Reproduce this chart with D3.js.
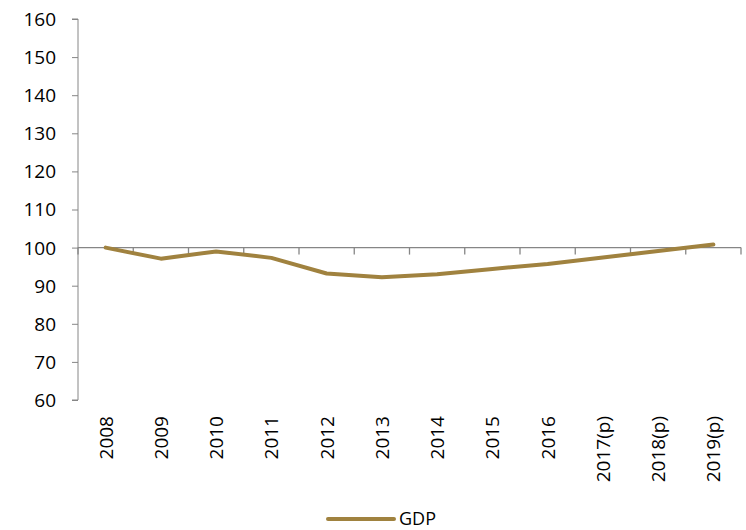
<!DOCTYPE html>
<html>
<head>
<meta charset="utf-8">
<script src="https://cdn.jsdelivr.net/npm/d3@7"></script>
<style>
  html, body { margin: 0; padding: 0; background: #fff; }
  svg { display: block; }
  text { font-family: "Open Sans", "Liberation Sans", sans-serif; fill: #000; }
</style>
</head>
<body>
<svg id="chart" width="746" height="530"></svg>
<script>
// GDP index, 2008 = 100
const categories = ["2008", "2009", "2010", "2011", "2012", "2013", "2014", "2015", "2016", "2017(p)", "2018(p)", "2019(p)"];
const gdpValues = [100, 97.1, 99.0, 97.3, 93.2, 92.2, 93.0, 94.4, 95.7, 97.4, 99.1, 100.8];
const yTicks = [60, 70, 80, 90, 100, 110, 120, 130, 140, 150, 160];
const seriesName = "GDP";

const svg = d3.select("#chart");
const plotLeft = 78, plotRight = 741, plotTop = 19, plotBottom = 400;
const lineColor = "#a0823f";
const axisColor = "#868686";

const x = d3.scaleBand().domain(categories).range([plotLeft, plotRight]);
const y = d3.scaleLinear().domain([60, 160]).range([plotBottom, plotTop]);

// value axis
const yAxis = svg.append("g").attr("transform", `translate(${plotLeft},0)`)
  .call(d3.axisLeft(y).tickValues(yTicks).tickSize(6).tickPadding(16).tickFormat(d3.format("d")));
yAxis.select(".domain").attr("stroke", axisColor).attr("d", `M-6,${plotTop}H0V${plotBottom}H-6`);
yAxis.selectAll(".tick line").attr("stroke", axisColor);
yAxis.selectAll(".tick text").style("font-size", "19px").attr("dy", "0.34em");

// category axis crosses at 100
const y100 = y(100);
const xAxisG = svg.append("g");
xAxisG.append("line")
  .attr("x1", plotLeft).attr("x2", plotRight).attr("y1", y100).attr("y2", y100)
  .attr("stroke", axisColor).attr("stroke-width", 1.3);
const bounds = categories.map(c => x(c)).concat([plotRight]);
xAxisG.selectAll("line.tk").data(bounds).join("line").attr("class", "tk")
  .attr("x1", d => d).attr("x2", d => d)
  .attr("y1", y100).attr("y2", y100 + 7)
  .attr("stroke", axisColor).attr("stroke-width", 1.3);

// rotated category labels below the plot
svg.append("g").selectAll("text").data(categories).join("text")
  .attr("transform", d => `translate(${x(d) + x.bandwidth() / 2 + 7},416) rotate(-90)`)
  .attr("text-anchor", "end")
  .style("font-size", "19px")
  .text(d => d);

// series line
const line = d3.line()
  .x((d, i) => x(categories[i]) + x.bandwidth() / 2)
  .y(d => y(d));
svg.append("path").datum(gdpValues)
  .attr("d", line)
  .attr("fill", "none")
  .attr("stroke", lineColor)
  .attr("stroke-width", 4)
  .attr("stroke-linejoin", "round")
  .attr("stroke-linecap", "round");

// legend
const lg = svg.append("g");
lg.append("line").attr("x1", 328).attr("x2", 394).attr("y1", 519).attr("y2", 519)
  .attr("stroke", lineColor).attr("stroke-width", 4).attr("stroke-linecap", "round");
lg.append("text").attr("x", 399).attr("y", 525).style("font-size", "18px").text(seriesName);
</script>
</body>
</html>
